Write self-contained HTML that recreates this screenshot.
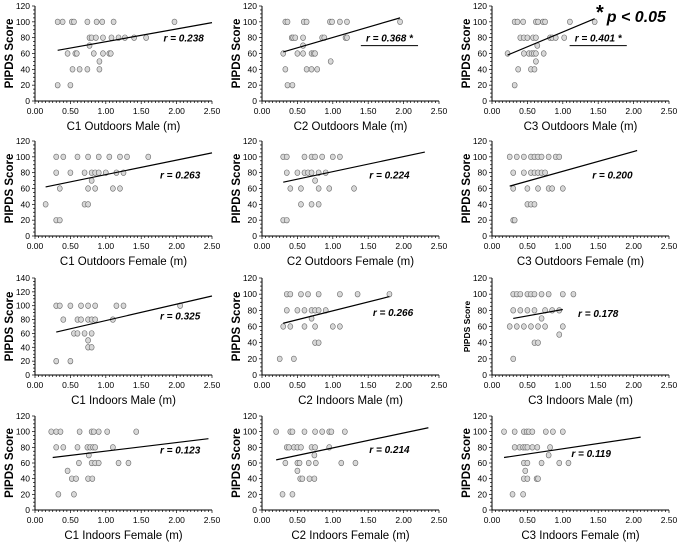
<!DOCTYPE html>
<html><head><meta charset="utf-8"><style>
html,body{margin:0;padding:0;background:#fff;}
svg{display:block;font-family:"Liberation Sans","DejaVu Sans",sans-serif;}
</style></head><body>
<svg id="chart" width="685" height="546" viewBox="0 0 685 546"></svg>
<script>
const titles=["C1 Outdoors Male (m)","C2 Outdoors Male (m)","C3 Outdoors Male (m)","C1 Outdoors Female (m)","C2 Outdoors Female (m)","C3 Outdoors Female (m)","C1 Indoors Male (m)","C2 Indoors Male (m)","C3 Indoors Male (m)","C1 Indoors Female (m)","C2 Indoors Female (m)","C3 Indoors Female (m)"];
const rLabels=["r = 0.238","r = 0.368 *","r = 0.401 *","r = 0.263","r = 0.224","r = 0.200","r = 0.325","r = 0.266","r = 0.178","r = 0.123","r = 0.214","r = 0.119"];
const rPos=[[2.1,80],[1.8,80],[1.5,80],[2.05,78],[1.8,78],[1.7,78],[2.05,86],[1.85,78],[1.5,77],[2.05,77],[1.8,78],[1.4,73]];
const yMaxes=[120,120,120,120,120,120,140,120,120,120,120,120];
const xTicks=["0.00","0.50","1.00","1.50","2.00","2.50"];
// regression lines: [x0,y0,x1,y1]
const fitLines=[[0.32,64,2.5,99],[0.3,62,1.95,105],[0.22,58,1.45,104],[0.15,62,2.5,105],[0.3,68,2.3,106],[0.25,63,2.05,108],[0.3,62,2.5,114],[0.3,64,1.8,97],[0.3,70,1.0,81],[0.25,67,2.45,91],[0.2,64,2.35,105],[0.17,67,2.1,93]];
// points: {score: [x values]}
const pts=[
{100:[0.32,0.39,0.52,0.55,0.74,0.87,0.95,1.11,1.97],80:[0.77,0.8,0.86,0.96,1.08,1.18,1.27,1.4,1.57],70:[0.77],60:[0.46,0.57,0.59,0.83,0.96,1.05,1.07],50:[0.91],40:[0.53,0.63,0.74,0.91],20:[0.32,0.5]},
{100:[0.33,0.36,0.59,0.63,0.96,0.99,1.1,1.2,1.95],80:[0.42,0.44,0.47,0.58,0.85,0.88,1.18,1.2],70:[0.58],60:[0.3,0.5,0.58,0.7,0.73,0.75],50:[0.97],40:[0.33,0.63,0.7,0.78],20:[0.36,0.43]},
{100:[0.32,0.36,0.44,0.62,0.65,0.72,0.75,1.1,1.45],80:[0.4,0.45,0.5,0.58,0.62,0.82,0.85,0.9,1.02],70:[0.64],60:[0.22,0.45,0.52,0.56,0.59,0.62,0.73],50:[0.62],40:[0.37,0.55,0.6],20:[0.32]},
{100:[0.3,0.4,0.6,0.75,0.9,1.05,1.2,1.3,1.6],80:[0.3,0.5,0.7,0.8,0.85,0.9,1.0,1.15,1.25],70:[0.8],60:[0.35,0.75,0.85,1.1,1.2],40:[0.15,0.7,0.75],20:[0.3,0.35]},
{100:[0.3,0.35,0.6,0.7,0.75,0.85,1.0,1.1],80:[0.35,0.5,0.6,0.65,0.7,0.8,0.9],70:[0.75],60:[0.4,0.55,0.8,0.95,1.3],40:[0.55,0.7,0.8],20:[0.3,0.35]},
{100:[0.25,0.35,0.45,0.55,0.6,0.65,0.7,0.8,0.9,0.95],80:[0.3,0.45,0.55,0.6,0.65,0.7,0.75],60:[0.3,0.5,0.65,0.8,0.85,1.0],40:[0.5,0.55,0.6],20:[0.3,0.32]},
{100:[0.3,0.35,0.5,0.65,0.75,0.85,1.15,1.25,2.05],80:[0.4,0.6,0.65,0.75,0.8,0.85,1.1],60:[0.55,0.6,0.7,0.8],50:[0.75],40:[0.75,0.8],20:[0.3,0.5]},
{100:[0.35,0.4,0.55,0.65,0.8,1.1,1.35,1.8],80:[0.35,0.5,0.6,0.7,0.75,0.8,0.9],70:[0.7],60:[0.3,0.4,0.6,0.75,1.0,1.1],40:[0.75,0.8],20:[0.25,0.45]},
{100:[0.3,0.35,0.4,0.5,0.55,0.6,0.7,0.8,1.0,1.15],80:[0.3,0.4,0.5,0.6,0.75,0.85,0.95],70:[0.7],60:[0.25,0.35,0.45,0.55,0.65,0.75,1.0],50:[0.95],40:[0.6,0.65],20:[0.3]},
{100:[0.23,0.3,0.36,0.63,0.8,0.83,0.9,1.02,1.43],80:[0.3,0.4,0.6,0.74,0.78,0.82,0.85,1.1],70:[0.76],60:[0.62,0.8,0.85,0.9,1.18,1.32],50:[0.46],40:[0.52,0.58,0.75,0.81],20:[0.33,0.55]},
{100:[0.2,0.4,0.43,0.6,0.75,0.85,0.95,0.98,1.17],80:[0.35,0.38,0.45,0.5,0.55,0.7,0.75,0.95],70:[0.74],60:[0.33,0.5,0.53,0.66,0.76,1.12,1.32],50:[0.5],40:[0.54,0.57,0.67,0.74],20:[0.29,0.43]},
{100:[0.17,0.32,0.45,0.49,0.52,0.57,0.76,0.86,1.0],80:[0.32,0.39,0.44,0.47,0.5,0.57,0.64,0.82],70:[0.8],60:[0.45,0.5,0.7,0.95,1.08],50:[0.47],40:[0.45,0.5,0.63,0.65],20:[0.29,0.44]}
];
const NS="http://www.w3.org/2000/svg";
const svg=document.getElementById('chart');
const colX=[35,262,492], rowTop=[6,141,278,416], rowBot=[101,236,375,510], pxPerUnit=70.8;
function mk(tag,attrs,parent,text){const e=document.createElementNS(NS,tag);for(const k in attrs)e.setAttribute(k,attrs[k]);if(text!==undefined)e.textContent=text;parent.appendChild(e);return e;}
for(let i=0;i<12;i++){
  const r=Math.floor(i/3),c=i%3;
  const x0=colX[c],yT=rowTop[r],yB=rowBot[r],yMax=yMaxes[i];
  const sx=v=>x0+v*pxPerUnit, sy=v=>yB-(v/yMax)*(yB-yT);
  const g=mk('g',{},svg);
  
  
  const ax=mk('path',{d:`M${x0},${yT} V${yB} H${sx(2.5)}`,stroke:'#000','stroke-width':1,fill:'none'},g);
  
  
  for(let v=0;v<=2.5001;v+=0.05){const big=Math.abs(v*2-Math.round(v*2))<1e-6;mk('line',{x1:sx(v),x2:sx(v),y1:yB,y2:yB+(big?3:2),stroke:'#000','stroke-width':0.7},g);}
  for(let v=0;v<=yMax;v+=5){const big=v%20===0;mk('line',{x1:x0-(big?3:2),x2:x0,y1:sy(v),y2:sy(v),stroke:'#000','stroke-width':0.7},g);}
  xTicks.forEach((t,k)=>{const e=mk('text',{x:sx(k*0.5),y:yB+13,'font-size':8.5,'text-anchor':'middle',fill:'#000'},g,t);});
  for(let v=0;v<=yMax;v+=20){const e=mk('text',{x:x0-5,y:sy(v)+3,'font-size':8.5,'text-anchor':'end',fill:'#000'},g,String(v));}
  const xt=mk('text',{x:sx(1.25),y:yB+29,'font-size':11.5,'text-anchor':'middle',fill:'#000'},g,titles[i]);
  
  
  const small=(i===8);
  const yt=mk('text',{x:0,y:0,'font-size':small?8.5:11.5,'font-weight':'bold','text-anchor':'middle',fill:'#000',transform:`translate(${x0-22},${(yT+yB)/2}) rotate(-90)`},g,'PIPDS Score');
  
  
  const p=pts[i];
  for(const s in p){p[s].forEach(xv=>{const d=mk('ellipse',{cx:sx(xv),cy:sy(+s),rx:2.5,ry:2.8,fill:'#d8d8d8',stroke:'#666','stroke-width':0.6},g);});}
  const L=fitLines[i];
  const fl=mk('line',{x1:sx(L[0]),y1:sy(L[1]),x2:sx(L[2]),y2:sy(L[3]),stroke:'#000','stroke-width':1.2},g);
  
  
  const rp=rPos[i];
  const rl=mk('text',{x:sx(rp[0]),y:sy(rp[1])+4,'font-size':10,'font-weight':'bold','font-style':'italic','text-anchor':'middle',fill:'#000'},g,rLabels[i]);
  
  
  if(rLabels[i].includes('*')){const w=rLabels[i].length*5.2;mk('line',{x1:sx(rp[0])-w/2,x2:sx(rp[0])+w/2,y1:sy(rp[1])+8,y2:sy(rp[1])+8,stroke:'#000','stroke-width':1},g);}
}
const note=mk('text',{x:596,y:22,'font-size':16,'font-weight':'bold','font-style':'italic','text-anchor':'start',fill:'#000'},svg);


mk('tspan',{'font-size':20,'font-style':'normal',dy:-3},note,'*');
mk('tspan',{dy:3,dx:3},note,'p < 0.05');
</script>
</body></html>
